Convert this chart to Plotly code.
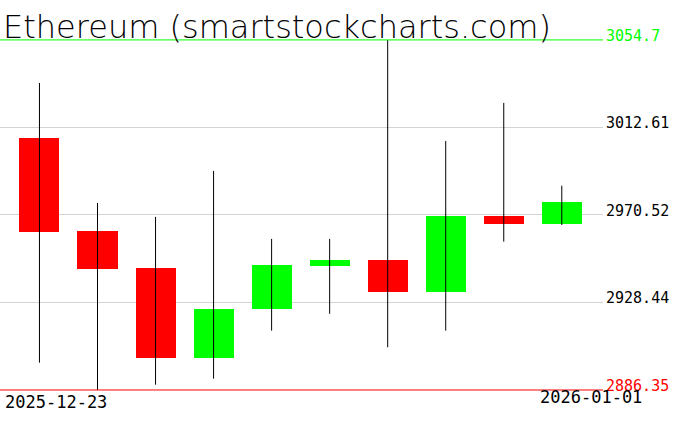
import plotly.graph_objects as go

dates = ["2025-12-23", "2025-12-24", "2025-12-25", "2025-12-26", "2025-12-27",
         "2025-12-28", "2025-12-29", "2025-12-30", "2025-12-31", "2026-01-01"]
opens = [3007.6, 2962.8, 2945.0, 2901.9, 2925.5, 2946.1, 2948.9, 2933.6, 2970.2, 2966.3]
highs = [3034.0, 2976.3, 2969.6, 2991.7, 2959.0, 2959.0, 3054.7, 3006.1, 3024.4, 2984.6]
lows = [2899.5, 2886.35, 2888.9, 2891.8, 2914.9, 2923.0, 2906.9, 2914.9, 2957.7, 2965.7]
closes = [2962.4, 2944.6, 2901.9, 2925.3, 2946.5, 2948.9, 2933.6, 2970.2, 2966.3, 2976.8]
tick_vals = [2886.35, 2928.44, 2970.52, 3012.61, 3054.7]
tick_text = ["2886.35", "2928.44", "2970.52", "3012.61", "3054.7"]
title_text = "Ethereum (smartstockcharts.com)"

idx = list(range(len(dates)))
wx, wy = [], []
for i in idx:
    wx += [i, i, None]
    wy += [lows[i], highs[i], None]

bases = [min(o, c) for o, c in zip(opens, closes)]
heights = [abs(c - o) for o, c in zip(opens, closes)]
colors = ["#00ff00" if c >= o else "#ff0000" for o, c in zip(opens, closes)]

fig = go.Figure()
fig.add_trace(go.Scatter(x=wx, y=wy, mode="lines", line=dict(color="black", width=1),
                         hoverinfo="skip", showlegend=False))
fig.add_trace(go.Bar(x=idx, y=heights, base=bases, width=0.69, marker=dict(color=colors, line=dict(width=0)),
                     showlegend=False))

ymin, ymax = tick_vals[0], tick_vals[-1]
fig.add_shape(type="line", xref="paper", x0=0, x1=1, yref="y", y0=ymax, y1=ymax,
              line=dict(color="#00ff00", width=1))
fig.add_shape(type="line", xref="paper", x0=0, x1=1, yref="y", y0=ymin, y1=ymin,
              line=dict(color="#ff0000", width=1))

lab_colors = ["#ff0000", "black", "black", "black", "#00ff00"]
for v, t, c in zip(tick_vals, tick_text, lab_colors):
    fig.add_annotation(x=1, xref="paper", y=v, yref="y", text=t, showarrow=False,
                       xanchor="left", yanchor="middle", xshift=1, yshift=4,
                       font=dict(family="DejaVu Sans Mono", size=15, color=c))

fig.add_annotation(x=0, xref="paper", y=ymin, yref="y", text=dates[0], showarrow=False,
                   xanchor="left", yanchor="top", xshift=3, yshift=0,
                   font=dict(family="DejaVu Sans Mono", size=17, color="black"))
fig.add_annotation(x=1, xref="paper", y=ymin, yref="y", text=dates[-1], showarrow=False,
                   xanchor="center", yanchor="top", xshift=-12, yshift=5,
                   font=dict(family="DejaVu Sans Mono", size=17, color="black"))

fig.add_annotation(x=0, xref="paper", y=ymax, yref="y", text=title_text, showarrow=False,
                   xanchor="left", yanchor="bottom", xshift=1, yshift=-8,
                   font=dict(family="DejaVu Sans ExtraLight, DejaVu Sans", size=32,
                             color="black", weight=200))

fig.update_layout(
    width=676, height=431,
    margin=dict(l=0, r=73, t=0, b=0),
    paper_bgcolor="white", plot_bgcolor="white",
    bargap=0, showlegend=False,
    xaxis=dict(range=[-0.68, 9.71], showgrid=False, zeroline=False, showticklabels=False, ticks=""),
    yaxis=dict(range=[2866.63, 3073.9], tickvals=tick_vals[1:-1], showgrid=True,
               gridcolor="#d3d3d3", gridwidth=1, zeroline=False, showticklabels=False, ticks=""),
)

fig.write_html("out.html", post_script="document.body.style.margin='0';",
               config={"displayModeBar": False})
